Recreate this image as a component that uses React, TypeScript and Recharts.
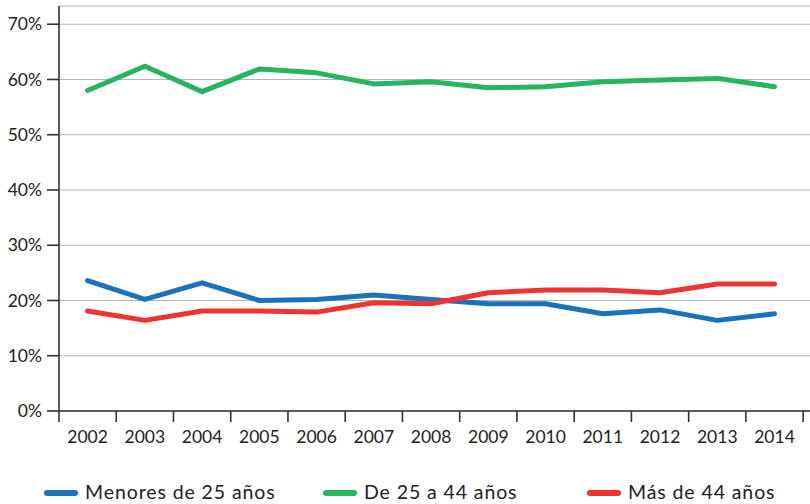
import React from 'react';
import { LineChart, Line, XAxis, YAxis, CartesianGrid, Legend } from 'recharts';

const years = [2002, 2003, 2004, 2005, 2006, 2007, 2008, 2009, 2010, 2011, 2012, 2013, 2014];
const menores25 = [23.6, 20.2, 23.2, 20.0, 20.2, 21.0, 20.2, 19.4, 19.4, 17.6, 18.3, 16.4, 17.6];
const de25a44 = [58.0, 62.4, 57.8, 61.9, 61.2, 59.2, 59.6, 58.5, 58.7, 59.6, 59.9, 60.2, 58.7];
const mas44 = [18.1, 16.4, 18.1, 18.1, 17.9, 19.6, 19.4, 21.4, 21.9, 21.9, 21.4, 23.0, 23.0];
const yTicks = [0, 10, 20, 30, 40, 50, 60, 70];

const seriesNames = ['Menores de 25 años', 'De 25 a 44 años', 'Más de 44 años'];
const seriesKeys = ['menores', 'medio', 'mayores'];
const seriesColors = ['#1a72bb', '#27b460', '#ee3430'];

const data = years.map((year, i) => ({
  year,
  menores: menores25[i],
  medio: de25a44[i],
  mayores: mas44[i],
}));

const W = 810;
const H = 504;
const Y_AXIS_W = 59;
const X_MIN = years[0] - 0.5;
const X_MAX = years[years.length - 1] + 0.62;
const boundaryTicks = [...years.map((y) => y - 0.5), years[years.length - 1] + 0.5];
const pxPerYear = (W - Y_AXIS_W) / (X_MAX - X_MIN);

const FONT = 'Lato, "Open Sans", sans-serif';

const XTick = (props: any) => {
  const { x, y, payload } = props;
  const label = payload.value + 0.5;
  if (!years.includes(Math.round(label)) || Math.abs(label - Math.round(label)) > 0.01) return <g />;
  return (
    <text
      x={x + pxPerYear / 2}
      y={y}
      dy={19}
      textAnchor="middle"
      fontFamily={FONT}
      fontSize={17.5}
      fill="#222"
    >
      {Math.round(label)}
    </text>
  );
};

const legendOffsets = [44, 323, 587];

const LegendContent = () => (
  <div style={{ position: 'relative', width: W, height: 20 }}>
    {seriesNames.map((name, i) => (
      <div
        key={name}
        style={{
          position: 'absolute',
          left: legendOffsets[i],
          top: 0,
          height: 20,
          display: 'flex',
          alignItems: 'center',
          whiteSpace: 'nowrap',
        }}
      >
        <span
          style={{
            display: 'inline-block',
            width: 34,
            height: 6,
            borderRadius: 3,
            background: seriesColors[i],
            marginTop: 2,
          }}
        />
        <span
          style={{
            marginLeft: 7,
            fontFamily: FONT,
            fontSize: 19.5,
            letterSpacing: 0.9,
            color: '#222',
            lineHeight: '20px',
          }}
        >
          {name}
        </span>
      </div>
    ))}
  </div>
);

export default function App() {
  return (
    <div style={{ position: 'absolute', left: 0, top: 0, width: W, height: H, background: '#fff' }}>
      <LineChart width={W} height={H} data={data} margin={{ top: 6, right: 0, bottom: 33, left: 0 }}>
        <CartesianGrid vertical={false} stroke="#b5b5b5" strokeWidth={1.2} />
        <XAxis
          dataKey="year"
          type="number"
          domain={[X_MIN, X_MAX]}
          ticks={boundaryTicks}
          interval={0}
          tickSize={11}
          height={40}
          tick={<XTick />}
          axisLine={{ stroke: '#333', strokeWidth: 1.6 }}
          tickLine={{ stroke: '#333', strokeWidth: 1.6 }}
          allowDataOverflow
        />
        <YAxis
          width={Y_AXIS_W}
          domain={[0, 73.3]}
          ticks={yTicks}
          interval={0}
          tickSize={12}
          tickMargin={5}
          tickFormatter={(v: number) => `${v}%`}
          tick={{ fontFamily: FONT, fontSize: 17.5, fill: '#222' }}
          axisLine={{ stroke: '#333', strokeWidth: 1.6 }}
          tickLine={{ stroke: '#333', strokeWidth: 1.6 }}
          allowDataOverflow
        />
        <Legend
          verticalAlign="bottom"
          content={<LegendContent />}
          wrapperStyle={{ left: 0, top: 482, width: W, height: 20 }}
        />
        {seriesKeys.map((k, i) => (
          <Line
            key={k}
            dataKey={k}
            name={seriesNames[i]}
            stroke={seriesColors[i]}
            strokeWidth={5}
            strokeLinecap="round"
            strokeLinejoin="round"
            dot={false}
            activeDot={false}
            isAnimationActive={false}
          />
        ))}
      </LineChart>
    </div>
  );
}
